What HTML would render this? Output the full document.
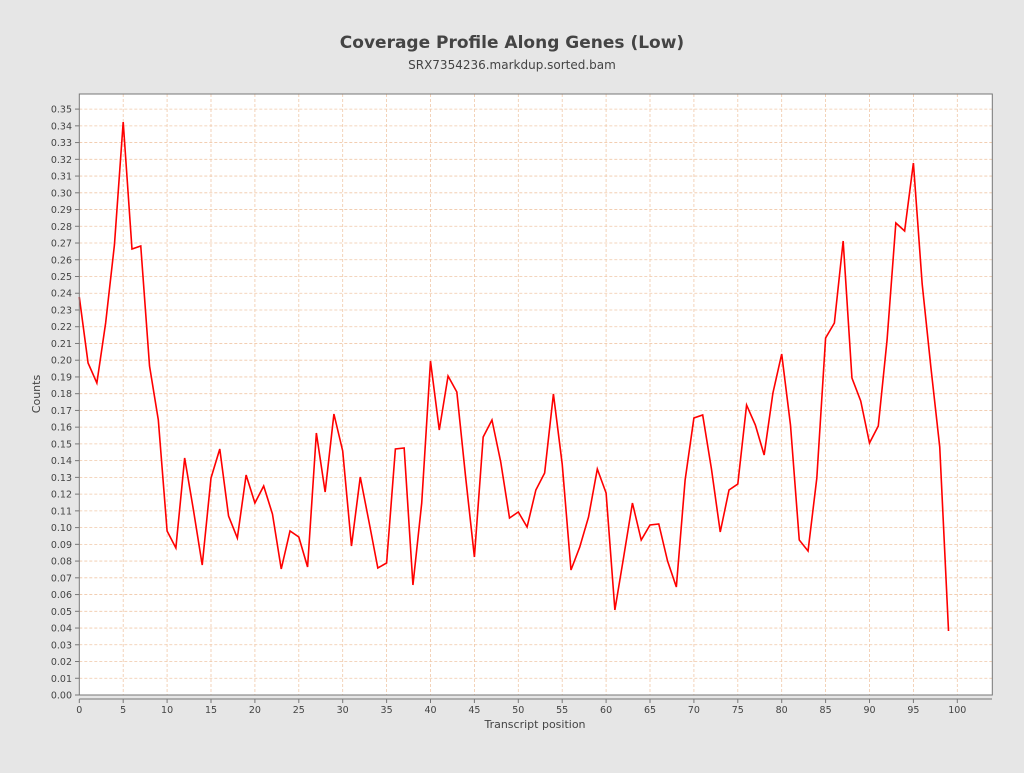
<!DOCTYPE html>
<html><head><meta charset="utf-8"><style>
body{margin:0;background:#e6e6e6;width:1024px;height:768px;overflow:hidden;font-family:"Liberation Sans","DejaVu Sans",sans-serif}
</style></head><body>
<svg id="s" width="1024" height="768" xmlns="http://www.w3.org/2000/svg" font-family="DejaVu Sans, Liberation Sans, sans-serif">
<text x="512" y="48" text-anchor="middle" font-size="17" font-weight="bold" fill="#444">Coverage Profile Along Genes (Low)</text>
<text x="512" y="69" text-anchor="middle" font-size="12" fill="#444">SRX7354236.markdup.sorted.bam</text>
<rect x="79.3" y="94" width="913" height="601" fill="#fff"/>
<g id="grid"></g>
<polyline fill="none" stroke="#f00" stroke-width="1.6" vector-effect="non-scaling-stroke" transform="translate(79.3,0) scale(8.78,1)" points="0,297 1,363 2,383 3,323 4,245 5,122 6,249 7,246 8,366 9,420 10,531 11,548 12,458 13,510 14,565 15,478 16,449 17,516 18,538 19,475 20,503 21,486 22,514 23,569 24,531 25,537 26,567 27,433 28,492 29,414 30,451 31,546 32,477 33,522 34,568 35,563 36,449 37,448 38,585 39,503 40,361 41,430 42,376 43,392 44,477 45,557 46,437 47,420 48,462 49,518 50,512 51,527 52,490 53,473 54,394 55,464 56,570 57,547 58,517 59,469 60,493 61,610 62,557 63,503 64,540 65,525 66,524 67,561 68,587 69,480 70,418 71,415 72,469 73,532 74,490 75,484 76,405 77,425 78,455 79,393 80,354 81,425 82,540 83,551 84,478 85,338 86,323 87,241 88,378 89,401 90,443 91,426 92,340 93,223 94,231 95,163 96,284 97,368 98,447 99,631"/>
<rect x="79.3" y="94" width="913" height="601" fill="none" stroke="#777" stroke-width="1"/>
<line x1="79.3" y1="699" x2="992" y2="699" stroke="#777"/>
<text x="40" y="394" transform="rotate(-90 40 394)" text-anchor="middle" font-size="11" fill="#444">Counts</text>
<text x="535" y="728" text-anchor="middle" font-size="11" fill="#444">Transcript position</text>
</svg>
<script>
var g=document.getElementById('grid'),ns='http://www.w3.org/2000/svg',h='';
for(var i=0;i<=35;i++){var y=695-i*16.74;
h+='<line x1="79.3" x2="992" y1="'+y+'" y2="'+y+'" stroke="#f0c8a8" stroke-width="0.8" stroke-dasharray="3,2"/>';
h+='<line x1="75" x2="79" y1="'+y+'" y2="'+y+'" stroke="#777"/>';
h+='<text x="72" y="'+(y+3.5)+'" text-anchor="end" font-size="9.5" fill="#444">'+(i/100).toFixed(2)+'</text>';}
for(var j=0;j<=20;j++){var x=79.3+j*5*8.78;
if(j>0&&j<20||j==20)h+='<line y1="94" y2="695" x1="'+x+'" x2="'+x+'" stroke="#f0c8a8" stroke-width="0.8" stroke-dasharray="3,2"/>';
h+='<line y1="699" y2="703" x1="'+x+'" x2="'+x+'" stroke="#777"/>';
h+='<text x="'+x+'" y="713" text-anchor="middle" font-size="9.5" fill="#444">'+(j*5)+'</text>';}
g.innerHTML=h;
</script>
</body></html>
